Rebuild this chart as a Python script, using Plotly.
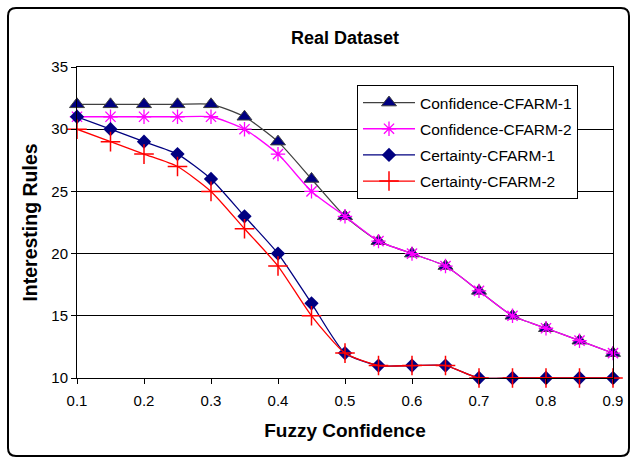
import plotly.graph_objects as go

x_vals = [0.1, 0.15, 0.2, 0.25, 0.3, 0.35, 0.4, 0.45, 0.5, 0.55, 0.6, 0.65, 0.7, 0.75, 0.8, 0.85, 0.9]
conf1 = [32, 32, 32, 32, 32, 31, 29, 26, 23, 21, 20, 19, 17, 15, 14, 13, 12]
conf2 = [31, 31, 31, 31, 31, 30, 28, 25, 23, 21, 20, 19, 17, 15, 14, 13, 12]
cert1 = [31, 30, 29, 28, 26, 23, 20, 16, 12, 11, 11, 11, 10, 10, 10, 10, 10]
cert2 = [30, 29, 28, 27, 25, 22, 19, 15, 12, 11, 11, 11, 10, 10, 10, 10, 10]
x_ticks = [0.1, 0.2, 0.3, 0.4, 0.5, 0.6, 0.7, 0.8, 0.9]
y_ticks = [10, 15, 20, 25, 30, 35]

fig = go.Figure()
fig.add_trace(go.Scatter(x=x_vals, y=conf1, name="Confidence-CFARM-1", mode="lines+markers",
                         legendgroup="a", cliponaxis=False,
                         line=dict(color="#404040", width=1.3, shape="spline", smoothing=0.6),
                         marker=dict(symbol="triangle-up", size=13, color="#000080",
                                     line=dict(color="#404040", width=1))))
fig.add_trace(go.Scatter(x=x_vals, y=conf2, name="Confidence-CFARM-2", mode="lines+markers",
                         legendgroup="b", cliponaxis=False,
                         line=dict(color="#FF00FF", width=1.3, shape="spline", smoothing=0.6),
                         marker=dict(symbol="asterisk-open", size=12, color="#FF00FF",
                                     line=dict(color="#FF00FF", width=1.3))))
fig.add_trace(go.Scatter(x=x_vals, y=cert1, name="Certainty-CFARM-1", mode="lines+markers",
                         legendgroup="c", cliponaxis=False,
                         line=dict(color="#000080", width=1.3, shape="spline", smoothing=0.6),
                         marker=dict(symbol="diamond", size=11, color="#000080",
                                     line=dict(color="#000080", width=0))))
fig.add_trace(go.Scatter(x=x_vals, y=cert2, name="Certainty-CFARM-2", mode="lines+markers",
                         legendgroup="d", cliponaxis=False,
                         line=dict(color="#FF0000", width=1.3, shape="spline", smoothing=0.6),
                         marker=dict(symbol="cross-thin-open", size=14, color="#FF0000",
                                     line=dict(color="#FF0000", width=1.5))))

L, R, T, B = 77, 21, 67, 81
W, H = 634, 459
pw, ph = W - L - R, H - T - B

def px_to_paper(px, py):
    return (px - L) / pw, (H - B - py) / ph

def P(px, py):
    a, b = px_to_paper(px, py)
    return f"{a:.5f},{b:.5f}"

# rounded outer border
x0, y0, x1, y1, r = 8, 8, 629, 456, 8
path = (f"M {P(x0 + r, y0)} L {P(x1 - r, y0)} Q {P(x1, y0)} {P(x1, y0 + r)} "
        f"L {P(x1, y1 - r)} Q {P(x1, y1)} {P(x1 - r, y1)} "
        f"L {P(x0 + r, y1)} Q {P(x0, y1)} {P(x0, y1 - r)} "
        f"L {P(x0, y0 + r)} Q {P(x0, y0)} {P(x0 + r, y0)} Z")
fig.add_shape(type="path", path=path, xref="paper", yref="paper",
              line=dict(color="black", width=2), layer="below")

fig.update_layout(
    width=W, height=H,
    margin=dict(l=L, r=R, t=T, b=B),
    paper_bgcolor="white", plot_bgcolor="white",
    font=dict(family="Arial, Liberation Sans, sans-serif", color="black", size=15),
    title=dict(text="<b>Real Dataset</b>", x=(L + pw / 2) / W, xanchor="center",
               y=1 - 38 / H, yanchor="middle", font=dict(size=18)),
    showlegend=True,
    legend=dict(x=px_to_paper(357, 0)[0], y=px_to_paper(0, 85)[1], xanchor="left", yanchor="top",
                bordercolor="black", borderwidth=1, bgcolor="white",
                font=dict(size=15.5), tracegroupgap=3, itemwidth=52),
    xaxis=dict(range=[0.1, 0.9], tickvals=x_ticks, ticktext=[f"{v:.1f}" for v in x_ticks],
               showgrid=False, zeroline=False, showline=True, linecolor="black", linewidth=1,
               mirror=True, ticks="outside", ticklen=5, tickcolor="black",
               tickfont=dict(size=15), ticklabelstandoff=4,
               title=dict(text="<b>Fuzzy Confidence</b>", font=dict(size=19), standoff=15)),
    yaxis=dict(range=[10, 35], tickvals=y_ticks, showgrid=True, gridcolor="black", gridwidth=1,
               zeroline=False, showline=True, linecolor="black", linewidth=1, mirror=True,
               ticks="outside", ticklen=5, tickcolor="black", tickfont=dict(size=15),
               title=dict(text="<b>Interesting Rules</b>", font=dict(size=19.5), standoff=8)),
)

fig.write_html("out.html")
